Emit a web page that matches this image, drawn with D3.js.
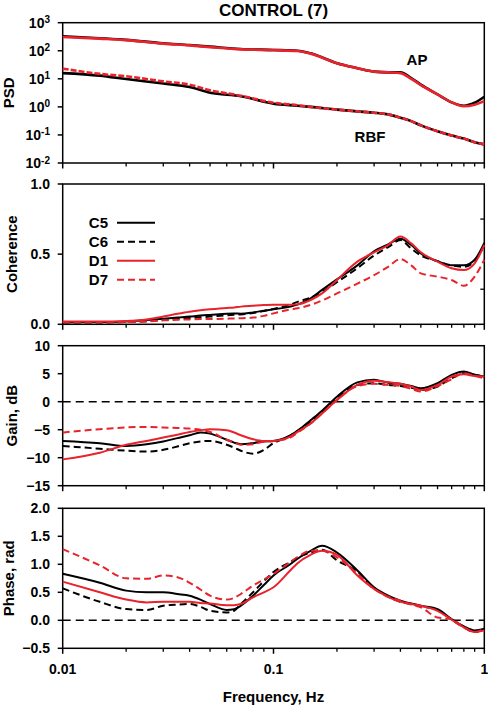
<!DOCTYPE html>
<html><head><meta charset="utf-8">
<script src="https://cdn.jsdelivr.net/npm/d3@7"></script>
<style>
body{margin:0;background:#fff;}
text{font-family:"Liberation Sans",Arial,sans-serif;font-weight:bold;fill:#000;}
</style></head>
<body><svg id="c" width="488" height="706"></svg>
<script>
// ---------- DATA ----------
const titleText = "CONTROL (7)";
const xTickLabels = ["0.01", "0.1", "1"];
const xTickValues = [0.01, 0.1, 1];

// PSD panel
const freqPSD = [0.01, 0.015, 0.02, 0.03, 0.04, 0.05, 0.07, 0.1, 0.13, 0.15, 0.2, 0.25, 0.3, 0.35, 0.4, 0.45, 0.5, 0.6, 0.7, 0.8, 0.9, 1.0];
const apControl = [330, 280, 245, 185, 160, 140, 115, 107, 100, 81, 36, 24, 18, 17, 17, 10.7, 6.2, 2.8, 1.45, 1.1, 1.4, 2.3];
const apDrug    = [310, 270, 240, 180, 155, 135, 112, 105, 98, 79, 36, 24, 18, 17, 16, 10, 6.0, 2.8, 1.45, 1.05, 1.2, 1.6];
const rbfControl = [16, 13, 9.8, 6.8, 5.1, 3.2, 2.4, 1.3, 1.1, 1.0, 0.8, 0.69, 0.62, 0.54, 0.41, 0.31, 0.22, 0.135, 0.095, 0.074, 0.055, 0.046];
const rbfDrug    = [23, 15, 12.3, 8.1, 6.2, 3.9, 2.5, 1.4, 1.15, 1.0, 0.8, 0.69, 0.62, 0.54, 0.41, 0.31, 0.22, 0.135, 0.095, 0.074, 0.055, 0.046];
const psdTickExps = [-2, -1, 0, 1, 2, 3];

// Coherence / gain / phase panels
const freq = [0.01, 0.015, 0.02, 0.025, 0.03, 0.035, 0.04, 0.045, 0.05, 0.06, 0.065, 0.07, 0.08, 0.09, 0.1, 0.12, 0.13, 0.15, 0.17, 0.2, 0.25, 0.3, 0.35, 0.4, 0.45, 0.5, 0.6, 0.7, 0.8, 0.9, 1.0];
const seriesNames = ["C5", "C6", "D1", "D7"];

const cohC5 = [0.014, 0.016, 0.02, 0.03, 0.04, 0.048, 0.055, 0.062, 0.067, 0.076, 0.077, 0.076, 0.085, 0.097, 0.107, 0.126, 0.14, 0.185, 0.245, 0.32, 0.42, 0.52, 0.57, 0.61, 0.565, 0.505, 0.45, 0.42, 0.42, 0.46, 0.58];
const cohC6 = [0.012, 0.013, 0.016, 0.022, 0.03, 0.038, 0.045, 0.05, 0.055, 0.065, 0.068, 0.07, 0.08, 0.095, 0.11, 0.14, 0.16, 0.19, 0.23, 0.3, 0.40, 0.49, 0.55, 0.6, 0.54, 0.49, 0.45, 0.42, 0.41, 0.45, 0.565];
const cohD1 = [0.02, 0.02, 0.024, 0.035, 0.055, 0.075, 0.09, 0.1, 0.107, 0.117, 0.12, 0.126, 0.132, 0.137, 0.14, 0.14, 0.142, 0.173, 0.22, 0.316, 0.447, 0.513, 0.565, 0.625, 0.577, 0.513, 0.447, 0.40, 0.387, 0.435, 0.565];
const cohD7 = [0.014, 0.014, 0.016, 0.02, 0.028, 0.032, 0.035, 0.037, 0.038, 0.04, 0.042, 0.043, 0.048, 0.06, 0.078, 0.105, 0.114, 0.138, 0.17, 0.22, 0.29, 0.35, 0.41, 0.465, 0.42, 0.363, 0.34, 0.316, 0.275, 0.34, 0.46];

const gainC5 = [-7.0, -7.4, -7.9, -7.6, -7.1, -6.5, -6.0, -5.5, -5.7, -6.8, -7.3, -7.6, -7.4, -7.1, -7.0, -6.0, -5.2, -3.3, -1.6, 0.9, 3.45, 3.9, 3.4, 3.2, 2.8, 2.4, 3.3, 4.8, 5.4, 4.8, 4.5];
const gainC6 = [-7.9, -8.4, -8.75, -8.9, -8.6, -8.0, -7.4, -7.1, -7.0, -7.7, -8.2, -8.75, -9.3, -8.6, -7.4, -6.1, -5.2, -3.6, -1.9, 0.6, 3.0, 3.3, 3.0, 2.8, 2.5, 2.1, 2.7, 4.2, 5.1, 4.8, 4.5];
const gainD1 = [-10.3, -9.1, -7.7, -7.0, -6.4, -5.9, -5.4, -5.1, -4.9, -5.1, -5.5, -6.0, -6.7, -7.0, -7.0, -6.25, -5.4, -3.9, -2.1, 0.3, 3.0, 3.75, 3.5, 3.2, 2.7, 2.1, 3.0, 4.5, 4.9, 4.6, 4.5];
const gainD7 = [-5.5, -4.9, -4.6, -4.5, -4.6, -4.7, -4.8, -5.0, -5.4, -6.8, -7.3, -7.7, -7.6, -7.1, -7.0, -6.4, -5.5, -3.9, -2.1, 0.3, 2.8, 3.2, 3.0, 2.8, 2.3, 1.8, 2.8, 4.0, 5.1, 4.6, 4.2];

const phaseC5 = [0.83, 0.67, 0.53, 0.50, 0.50, 0.47, 0.44, 0.37, 0.29, 0.185, 0.2, 0.26, 0.44, 0.63, 0.80, 1.0, 1.1, 1.24, 1.33, 1.21, 0.89, 0.59, 0.44, 0.35, 0.3, 0.26, 0.20, 0.02, -0.11, -0.18, -0.15];
const phaseC6 = [0.57, 0.33, 0.2, 0.185, 0.26, 0.28, 0.29, 0.24, 0.17, 0.14, 0.17, 0.29, 0.5, 0.7, 0.86, 1.04, 1.12, 1.21, 1.26, 1.07, 0.87, 0.57, 0.42, 0.33, 0.29, 0.25, 0.185, 0.01, -0.125, -0.21, -0.15];
const phaseD1 = [0.69, 0.5, 0.37, 0.32, 0.33, 0.33, 0.33, 0.31, 0.30, 0.27, 0.27, 0.29, 0.41, 0.5, 0.59, 0.89, 1.02, 1.17, 1.24, 1.17, 0.80, 0.56, 0.42, 0.33, 0.29, 0.26, 0.17, 0.01, -0.125, -0.21, -0.18];
const phaseD7 = [1.27, 0.98, 0.75, 0.74, 0.80, 0.77, 0.67, 0.55, 0.44, 0.37, 0.40, 0.47, 0.62, 0.73, 0.83, 1.04, 1.13, 1.24, 1.24, 1.125, 0.83, 0.56, 0.42, 0.35, 0.28, 0.23, 0.05, 0.02, -0.125, -0.21, -0.15];

const cohTicks = [0, 0.5, 1.0];
const gainTicks = [-15, -10, -5, 0, 5, 10];
const phaseTicks = [-0.5, 0, 0.5, 1.0, 1.5, 2.0];

// ---------- DRAWING ----------
const svg = d3.select("#c");
const RED = "#e8232b";
const styles = [
  {color: "#000", dash: null},
  {color: "#000", dash: "7,4"},
  {color: RED, dash: null},
  {color: RED, dash: "7,4"}
];
const x = d3.scaleLog().domain([0.01, 1]).range([62.7, 484.3]);

function frame(y, opts) {
  const g = svg.append("g");
  const [y0, y1] = y.range(); // bottom, top
  // x axis bottom ticks
  const minor = [];
  [0.01, 0.1].forEach(d => { for (let k = 2; k <= 9; k++) minor.push(d * k); });
  g.selectAll(null).data(minor).join("line")
    .attr("x1", d => x(d)).attr("x2", d => x(d))
    .attr("y1", y0).attr("y2", y0 + 3.5)
    .attr("stroke", "#000").attr("stroke-width", 1.3);
  g.selectAll(null).data(xTickValues).join("line")
    .attr("x1", d => x(d)).attr("x2", d => x(d))
    .attr("y1", y0).attr("y2", y0 + 5.5)
    .attr("stroke", "#000").attr("stroke-width", 1.5);
  // box
  g.append("rect").attr("x", x.range()[0]).attr("y", y1)
    .attr("width", x.range()[1] - x.range()[0]).attr("height", y0 - y1)
    .attr("fill", "none").attr("stroke", "#000").attr("stroke-width", 1.5);
  // y ticks
  g.selectAll(null).data(opts.ticks).join("line")
    .attr("x1", x.range()[0] - 5).attr("x2", x.range()[0])
    .attr("y1", d => y(d)).attr("y2", d => y(d))
    .attr("stroke", "#000").attr("stroke-width", 1.5);
  if (opts.rightTicks) {
    g.selectAll(null).data(opts.rightTicks).join("line")
      .attr("x1", x.range()[1] - 4).attr("x2", x.range()[1])
      .attr("y1", d => y(d)).attr("y2", d => y(d))
      .attr("stroke", "#000").attr("stroke-width", 1.3);
  }
  if (opts.labels !== false) {
    g.selectAll(null).data(opts.ticks).join("text")
      .attr("x", 50).attr("y", d => y(d)).attr("dy", "0.36em")
      .attr("text-anchor", "end").attr("font-size", 14)
      .text(d => opts.fmt(d));
  }
  // y title
  const cy = (y0 + y1) / 2;
  svg.append("text").attr("transform", `translate(${opts.titleX},${cy}) rotate(-90)`)
    .attr("text-anchor", "middle").attr("font-size", 15).text(opts.title);
  return g;
}

function drawLines(y, series, width) {
  const line = d3.line().x(d => x(d[0])).y(d => y(d[1])).curve(d3.curveMonotoneX);
  series.forEach((s, i) => {
    svg.append("path").datum(s.f.map((f, j) => [f, s.v[j]]))
      .attr("d", line).attr("fill", "none")
      .attr("stroke", s.style.color).attr("stroke-width", width)
      .attr("stroke-dasharray", s.style.dash);
  });
}

function zeroLine(y) {
  svg.append("line").attr("x1", x.range()[0]).attr("x2", x.range()[1])
    .attr("y1", y(0)).attr("y2", y(0))
    .attr("stroke", "#000").attr("stroke-width", 1.5).attr("stroke-dasharray", "8,5");
}

// Title
svg.append("text").attr("x", 273.5).attr("y", 16).attr("text-anchor", "middle")
  .attr("font-size", 17).text(titleText);

// Panel 1: PSD
const yPSD = d3.scaleLog().domain([0.01, 1000]).range([163, 22.7]);
const gP = frame(yPSD, {ticks: psdTickExps.map(e => Math.pow(10, e)), labels: false, title: "PSD", titleX: 14});
psdTickExps.forEach(e => {
  const t = svg.append("text").attr("x", 50).attr("y", yPSD(Math.pow(10, e))).attr("dy", "0.36em")
    .attr("text-anchor", "end").attr("font-size", 14);
  t.append("tspan").text("10");
  t.append("tspan").attr("dy", "-0.45em").attr("font-size", 10).text(e);
});
drawLines(yPSD, [
  {f: freqPSD, v: rbfControl, style: styles[0]},
  {f: freqPSD, v: rbfDrug, style: {color: RED, dash: "6,2"}},
  {f: freqPSD, v: apControl, style: styles[0]},
  {f: freqPSD, v: apDrug, style: styles[2]}
], 2.6);
svg.append("text").attr("x", 417).attr("y", 60).attr("dy", "0.36em").attr("text-anchor", "middle")
  .attr("font-size", 15).text("AP");
svg.append("text").attr("x", 370).attr("y", 137).attr("dy", "0.36em").attr("text-anchor", "middle")
  .attr("font-size", 15).text("RBF");

// Panel 2: Coherence
const yCoh = d3.scaleLinear().domain([0, 1]).range([324.3, 184]);
frame(yCoh, {ticks: cohTicks, rightTicks: [0.25, 0.75], fmt: d3.format(".1f"), title: "Coherence", titleX: 16.5});
const cohData = [cohC5, cohC6, cohD1, cohD7];
drawLines(yCoh, cohData.map((v, i) => ({f: freq, v: v, style: styles[i]})), 2);
// legend
seriesNames.forEach((n, i) => {
  const ly = 222.7 + i * 19;
  svg.append("text").attr("x", 108).attr("y", ly).attr("dy", "0.36em").attr("text-anchor", "end")
    .attr("font-size", 15).text(n);
  svg.append("line").attr("x1", 117).attr("x2", 155).attr("y1", ly).attr("y2", ly)
    .attr("stroke", styles[i].color).attr("stroke-width", 2).attr("stroke-dasharray", styles[i].dash);
});

// Panel 3: Gain
const yGain = d3.scaleLinear().domain([-15, 10]).range([485.7, 345.7]);
frame(yGain, {ticks: gainTicks, fmt: d3.format("d"), title: "Gain, dB", titleX: 16.5});
zeroLine(yGain);
const gainData = [gainC5, gainC6, gainD1, gainD7];
drawLines(yGain, gainData.map((v, i) => ({f: freq, v: v, style: styles[i]})), 2);

// Panel 4: Phase
const yPh = d3.scaleLinear().domain([-0.5, 2]).range([648.3, 508.3]);
frame(yPh, {ticks: phaseTicks, fmt: d3.format(".1f"), title: "Phase, rad", titleX: 14});
zeroLine(yPh);
const phData = [phaseC5, phaseC6, phaseD1, phaseD7];
drawLines(yPh, phData.map((v, i) => ({f: freq, v: v, style: styles[i]})), 2);

// x tick labels
svg.selectAll(null).data(xTickValues).join("text")
  .attr("x", d => x(d)).attr("y", 669).attr("dy", "0.36em").attr("text-anchor", "middle")
  .attr("font-size", 14).text((d, i) => xTickLabels[i]);
svg.append("text").attr("x", 273.5).attr("y", 697).attr("dy", "0.36em").attr("text-anchor", "middle")
  .attr("font-size", 15).text("Frequency, Hz");
</script></body></html>
